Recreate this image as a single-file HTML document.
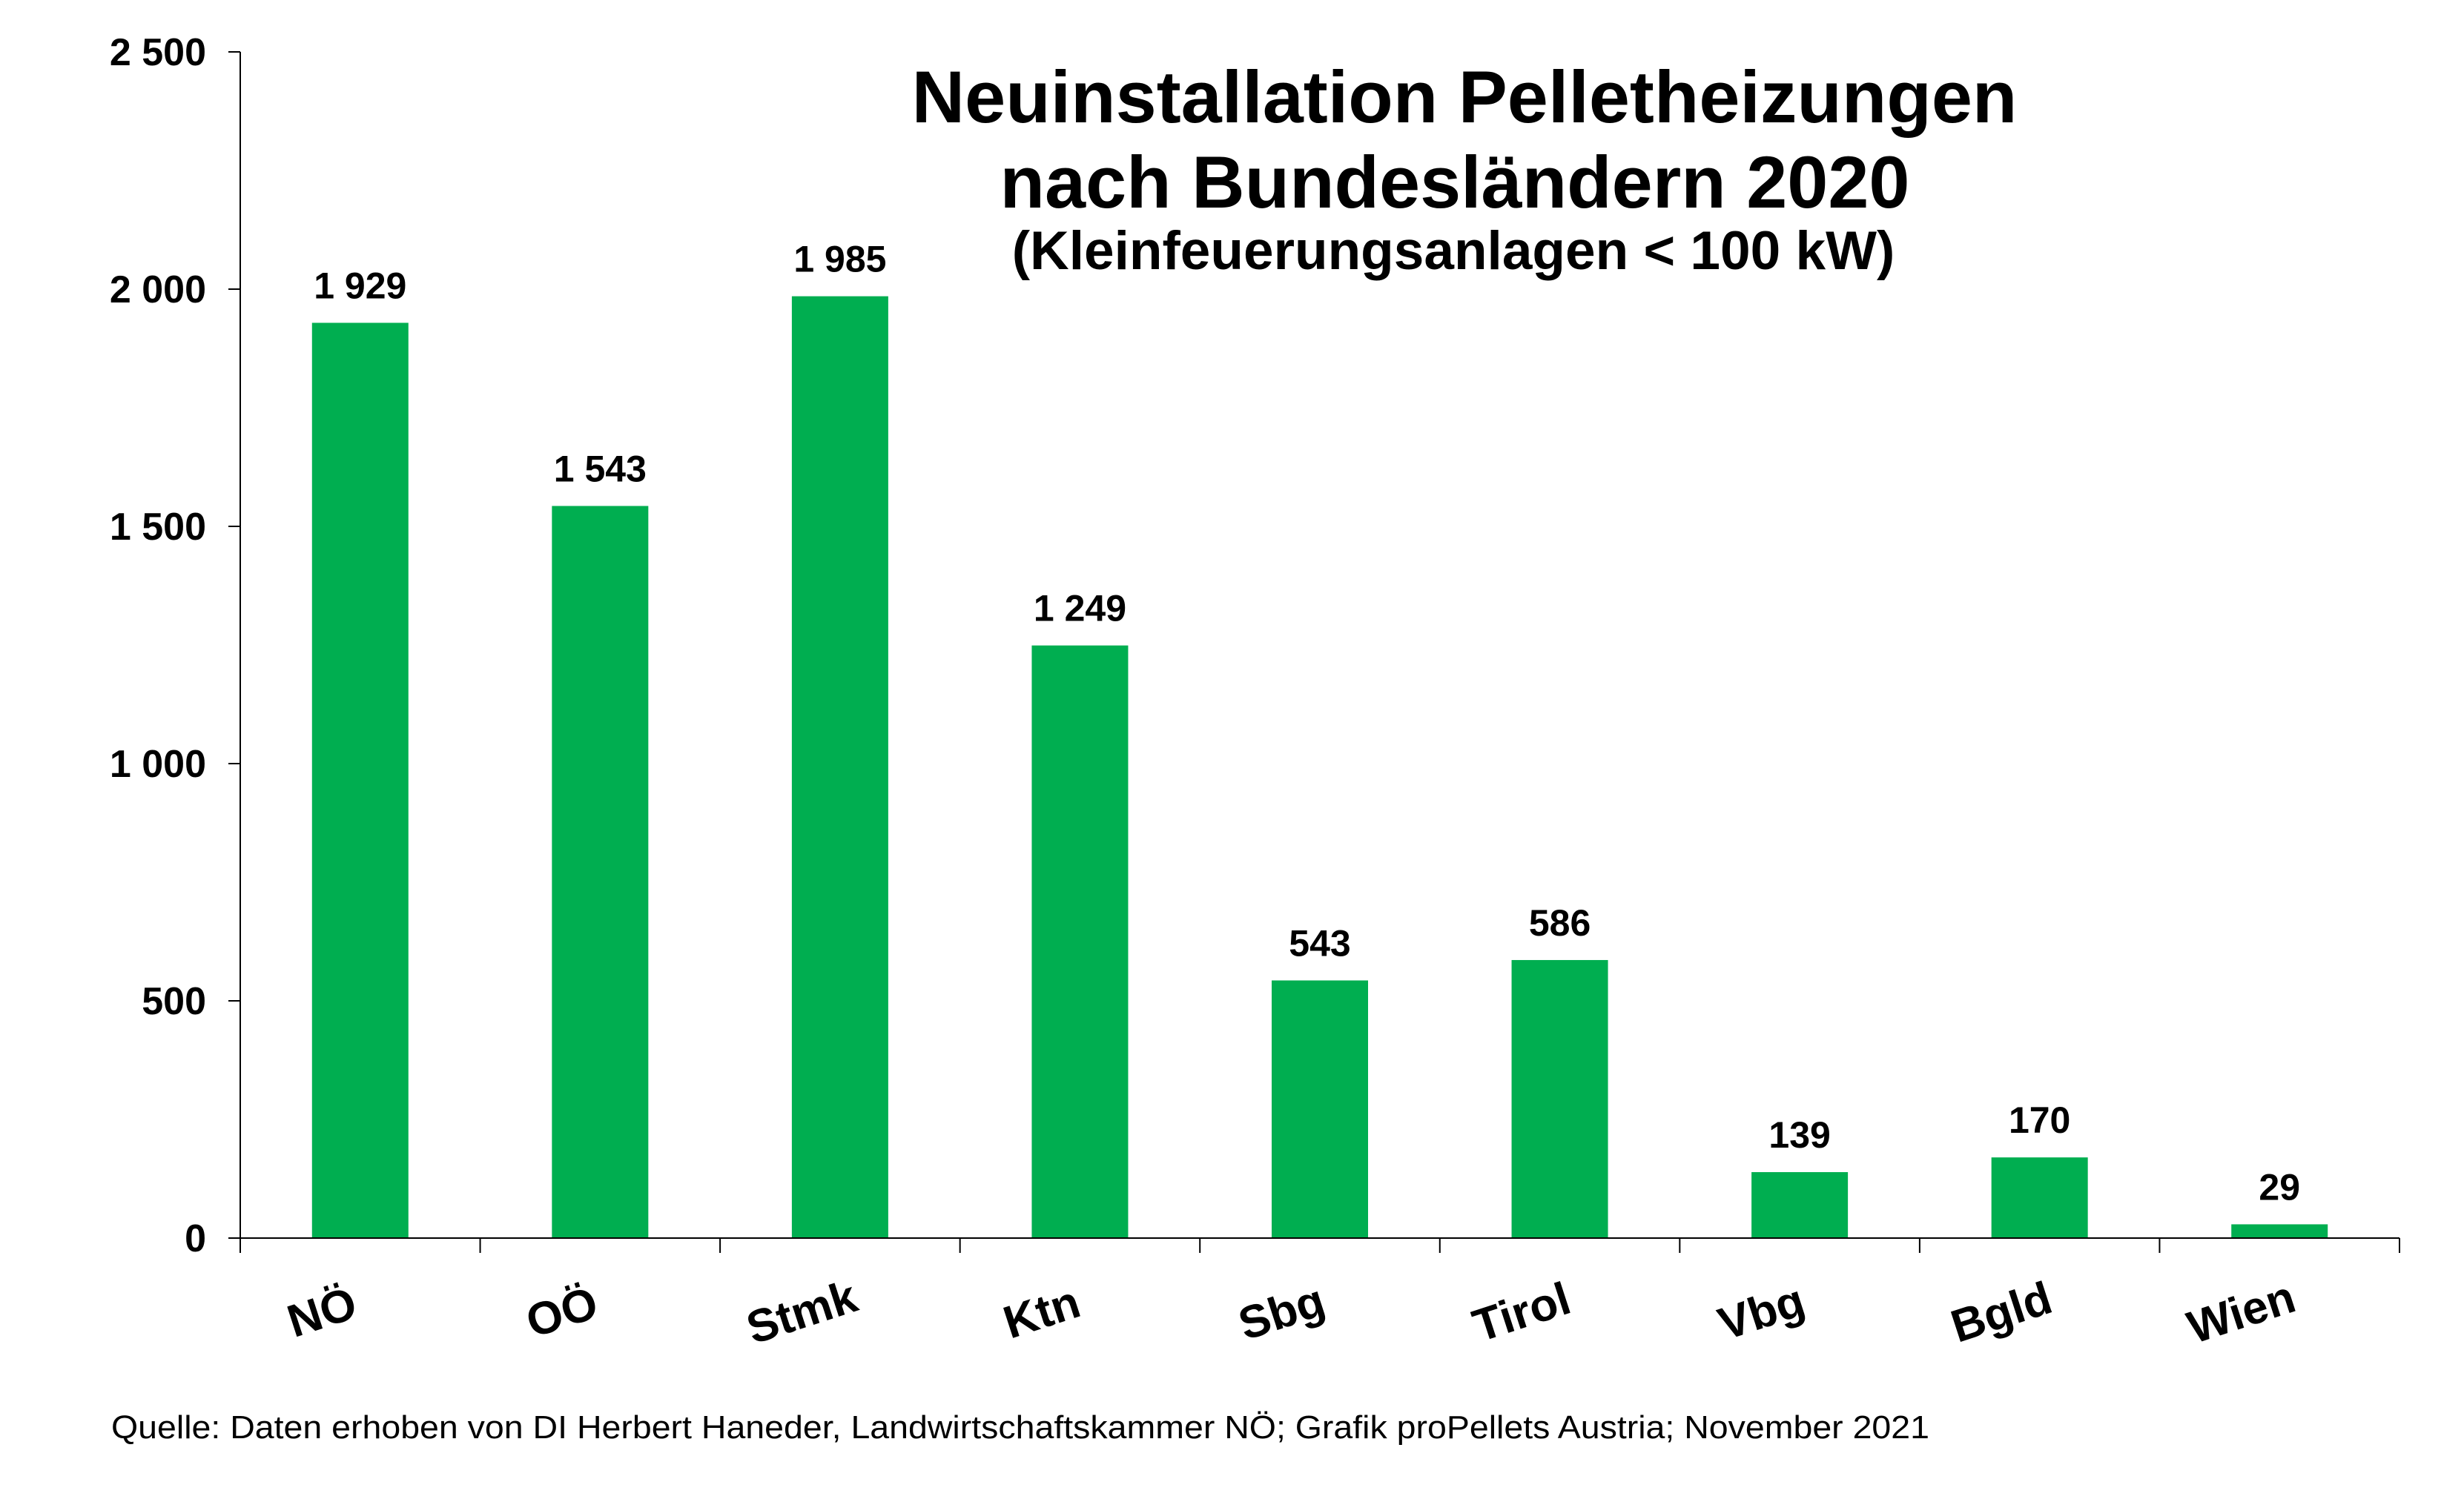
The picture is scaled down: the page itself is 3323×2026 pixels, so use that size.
<!DOCTYPE html>
<html><head><meta charset="utf-8">
<style>
html,body{margin:0;padding:0;background:#fff;}
svg{display:block;font-family:"Liberation Sans",Arial,sans-serif;}
</style></head>
<body>
<svg id="chart" width="3323" height="2026" viewBox="0 0 3323 2026" xmlns="http://www.w3.org/2000/svg">
<rect width="3323" height="2026" fill="#fff"/>
<g text-anchor="middle" font-weight="bold" fill="#000">
<text x="1975" y="165" font-size="99">Neuinstallation Pelletheizungen</text>
<text x="1962" y="280" font-size="99">nach Bundesländern 2020</text>
<text x="1960" y="363" font-size="73">(Kleinfeuerungsanlagen &lt; 100 kW)</text>
</g>
<text x="150" y="1940" font-size="44" textLength="2452" lengthAdjust="spacingAndGlyphs">Quelle: Daten erhoben von DI Herbert Haneder, Landwirtschaftskammer NÖ; Grafik proPellets Austria; November 2021</text>
<g id="plot"></g>
</svg>
<script>
const categories = ["NÖ","OÖ","Stmk","Ktn","Sbg","Tirol","Vbg","Bgld","Wien"];
const values = [1929,1543,1985,1249,543,586,139,170,29];
const labels = ["1 929","1 543","1 985","1 249","543","586","139","170","29"];
const yTicks = [0,500,1000,1500,2000,2500];
const yTickLabels = ["0","500","1 000","1 500","2 000","2 500"];

const NS="http://www.w3.org/2000/svg";
const X0=324, X1=3236, Y0=1670, YTOP=70, YMAX=2500;
const catW=(X1-X0)/categories.length, barW=130;
const y=v=>Y0-(v/YMAX)*(Y0-YTOP);
const xc=i=>X0+catW*(i+0.5);
const g=document.getElementById('plot');
function mk(tag,attrs){const e=document.createElementNS(NS,tag);for(const k in attrs)e.setAttribute(k,attrs[k]);g.appendChild(e);return e;}

values.forEach((v,i)=>{
  const b=mk('rect',{x:xc(i)-barW/2,y:y(v),width:barW,height:Y0-y(v),fill:'#00ae50'});
  
  
  const t=mk('text',{x:xc(i),y:y(v)-33,'text-anchor':'middle','font-size':50,'font-weight':'bold'});
  t.textContent=labels[i];
  
  
  const lx=xc(i)-45, ly=1790;
  const c=mk('text',{x:lx,y:ly,'text-anchor':'middle','font-size':62,'font-weight':'bold',transform:`rotate(-18 ${lx} ${ly})`});
  c.textContent=categories[i];
  
  
});
const ya=mk('line',{x1:X0,y1:YTOP,x2:X0,y2:Y0,stroke:'#000','stroke-width':2});


const xa=mk('line',{x1:X0,y1:Y0,x2:X1,y2:Y0,stroke:'#000','stroke-width':2});


for(let i=0;i<=categories.length;i++){
  const tk=mk('line',{x1:X0+catW*i,y1:Y0,x2:X0+catW*i,y2:Y0+20,stroke:'#000','stroke-width':2});
  
  
}
yTicks.forEach((v,i)=>{
  const tk=mk('line',{x1:X0-16,y1:y(v),x2:X0,y2:y(v),stroke:'#000','stroke-width':2});
  
  
  const t=mk('text',{x:278,y:y(v)+18,'text-anchor':'end','font-size':52,'font-weight':'bold'});
  t.textContent=yTickLabels[i];
  
  
});
</script>
</body></html>
